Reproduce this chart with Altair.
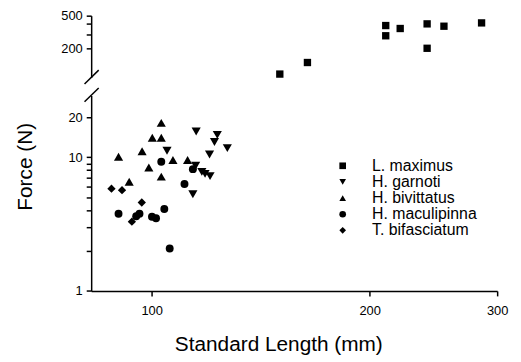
import altair as alt
import pandas as pd

species = ["L. maximus", "H. garnoti", "H. bivittatus", "H. maculipinna", "T. bifasciatum"]
shapes = ["square", "triangle-down", "triangle-up", "circle", "diamond"]
sizes = [55, 85, 85, 64, 70]

lmax_len = [150.3, 164.1, 210.5, 210.5, 220.4, 240.1, 240.1, 253.3, 285.5]
lmax_force = [98.6, 136, 380, 286, 350, 398, 202, 373, 409]

garn_len = [105.0, 115.2, 123.2, 122.1, 127.2, 120.2, 115.0, 117.3, 118.5, 120.4, 114.0]
garn_force = [11.2, 15.6, 14.7, 13.0, 11.7, 10.5, 8.65, 7.78, 7.52, 7.23, 5.29]

biv_len = [90.0, 93.1, 97.0, 99.1, 100.2, 103.1, 103.1, 103.1, 107.0, 112.1]
biv_force = [10.1, 6.56, 11.1, 8.39, 14.0, 18.1, 14.0, 7.17, 9.55, 9.55]

mac_len = [90.0, 95.2, 96.2, 100.1, 101.4, 104.1, 103.1, 105.9, 111.0, 114.0]
mac_force = [3.78, 3.62, 3.78, 3.59, 3.50, 4.10, 9.26, 2.08, 6.31, 8.15]

bif_len = [88.0, 91.0, 96.9, 93.9]
bif_force = [5.82, 5.67, 4.59, 3.30]

x_ticks = [100, 200, 300]
upper_ticks = [200, 300, 400, 500]
upper_labels = [200, 500]
lower_ticks = [1, 2, 3, 4, 5, 6, 7, 8, 9, 10, 20]
lower_labels = [1, 10, 20]

FONT = "Liberation Sans"
W = 410
H_UP = 62.3
H_LO = 197.4

x_scale = alt.Scale(type="log", domain=[82.5, 300], nice=False)
shape_scale = alt.Scale(domain=species, range=shapes)
lower_y_scale = alt.Scale(type="log", domain=[1, 29], nice=False)


def label_expr(vals):
    return " || ".join(f"datum.value == {v}" for v in vals) + " ? datum.label : ''"


axis_common = dict(domainColor="black", tickColor="black", labelColor="black",
                   domainWidth=1.5, tickWidth=1.5, labelFont=FONT, labelFontSize=13,
                   labelFlush=False, grid=False)

# ---------- upper panel ----------
upper_df = pd.DataFrame({"length": lmax_len, "force": lmax_force, "species": species[0]})
upper_pts = alt.Chart(upper_df).mark_point(filled=True, opacity=1, color="black", size=sizes[0]).encode(
    x=alt.X("length:Q", scale=x_scale, axis=None),
    y=alt.Y("force:Q", scale=alt.Scale(type="log", domain=[90, 500], nice=False),
            axis=alt.Axis(values=upper_ticks, labelExpr=label_expr(upper_labels), title=None,
                          tickSize=5, labelPadding=4, **axis_common)),
    shape=alt.Shape("species:N", scale=shape_scale, legend=None),
)
upper_break = alt.Chart(pd.DataFrame({"k": [0]})).mark_rule(color="black", strokeWidth=1.5).encode(
    x=alt.value(-6.7), x2=alt.value(7.6), y=alt.value(H_UP + 6.7), y2=alt.value(H_UP - 7.3)
)
upper = alt.layer(upper_pts, upper_break).properties(width=W, height=H_UP)

# ---------- lower panel ----------
x_axis = alt.Axis(values=x_ticks, format="d", title="Standard Length (mm)",
                  tickSize=5, labelPadding=9, titleFont=FONT, titleFontSize=21,
                  titleFontWeight="normal", titleColor="black",
                  titleX=189, titleY=60, titleAlign="center", titleBaseline="alphabetic",
                  **axis_common)
y_axis = alt.Axis(values=lower_ticks, labelExpr=label_expr(lower_labels), title="Force (N)",
                  tickSize=5, labelPadding=4, titleFont=FONT, titleFontSize=21,
                  titleFontWeight="normal", titleColor="black", titleAngle=270,
                  titleX=-60, titleY=71.5, titleAlign="center", titleBaseline="alphabetic",
                  **axis_common)
legend = alt.Legend(title=None, orient="none", legendX=246, legendY=63,
                    labelFont=FONT, labelFontSize=16, labelColor="black",
                    labelOffset=21.6, symbolSize=45, symbolFillColor="black",
                    symbolStrokeColor="black", symbolStrokeWidth=0, rowPadding=0.3, padding=0)

lower_layers = []
series = [(species[1], garn_len, garn_force, sizes[1]),
          (species[2], biv_len, biv_force, sizes[2]),
          (species[3], mac_len, mac_force, sizes[3]),
          (species[4], bif_len, bif_force, sizes[4])]
for name, L, F, s in series:
    df = pd.DataFrame({"length": L, "force": F, "species": name})
    lower_layers.append(
        alt.Chart(df).mark_point(filled=True, opacity=1, color="black", size=s).encode(
            x=alt.X("length:Q", scale=x_scale, axis=x_axis),
            y=alt.Y("force:Q", scale=lower_y_scale, axis=y_axis),
            shape=alt.Shape("species:N", scale=shape_scale, legend=legend),
        )
    )
lower_break = alt.Chart(pd.DataFrame({"k": [0]})).mark_rule(color="black", strokeWidth=1.5).encode(
    x=alt.value(-6.7), x2=alt.value(7.6), y=alt.value(6.4), y2=alt.value(-7.6)
)
lower = alt.layer(*lower_layers, lower_break).properties(width=W, height=H_LO)

chart = alt.vconcat(upper, lower, spacing=17.6).resolve_scale(
    x="independent", y="independent", shape="independent"
).resolve_legend(shape="independent").properties(
    padding={"left": 7, "top": 0, "right": 5, "bottom": 5}, bounds="flush",
    background="white"
).configure_view(strokeWidth=0, stroke="transparent")

chart.save("out.html", embed_options={"renderer": "svg", "actions": False})
